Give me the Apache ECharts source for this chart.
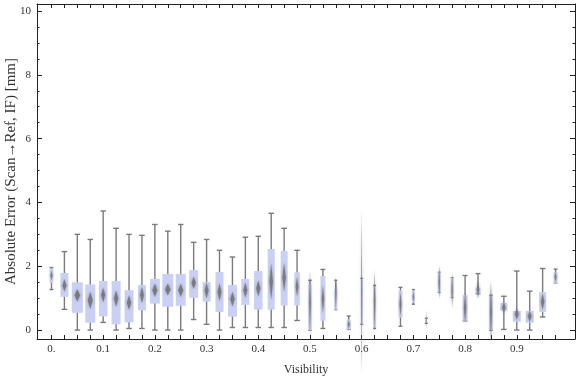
<!DOCTYPE html>
<html>
<head>
<meta charset="utf-8">
<script src="https://cdn.jsdelivr.net/npm/echarts@6/dist/echarts.min.js"></script>
<style>
  html, body { margin: 0; padding: 0; background: #fff; }
  #chart { width: 576px; height: 377px; }
</style>
</head>
<body>
<div id="chart"></div>
<script>
// box positions (visibility bins)
const visibility = [0, 0.025, 0.05, 0.075, 0.1, 0.125, 0.15, 0.175, 0.2, 0.225,
  0.25, 0.275, 0.3, 0.325, 0.35, 0.375, 0.4, 0.425, 0.45, 0.475,
  0.5, 0.525, 0.55, 0.575, 0.6, 0.625, 0.65, 0.675, 0.7, 0.725,
  0.75, 0.775, 0.8, 0.825, 0.85, 0.875, 0.9, 0.925, 0.95, 0.975];

const whiskerLow = [1.27, 0.65, 0, 0, 0.24, 0, 0.05, 0.05, 0, 0,
  0, 0.33, 0.18, 0, 0.08, 0.08, 0.08, 0.08, 0.08, 0.30,
  0, 0.05, 0.64, 0.02, 0.18, 0.05, null, 0.12, 0.81, 0.21,
  1.18, 1.02, 0.29, 1.14, 0, 0.02, 0, 0, 0.41, 1.48];
const q1 = [1.48, 1.04, 0.54, 0.23, 0.43, 0.18, 0.24, 0.62, 0.83, 0.73,
  0.76, 1.01, 0.89, 0.57, 0.42, 0.79, 0.64, 0.64, 0.77, 0.77,
  0, 0.29, 0.64, 0.02, 0.18, 0.08, null, 0.39, 0.86, 0.22,
  1.18, 1.02, 0.29, 1.14, 0, 0.60, 0.26, 0.23, 0.57, 1.48];
const q3 = [1.93, 1.79, 1.50, 1.43, 1.54, 1.54, 1.25, 1.41, 1.60, 1.76,
  1.76, 1.88, 1.50, 1.82, 1.41, 1.60, 1.85, 2.54, 2.48, 1.81,
  1.44, 1.69, 1.27, 0.33, 1.62, 1.38, null, 1.24, 1.24, 0.36,
  1.81, 1.64, 1.10, 1.33, 1.08, 0.86, 0.60, 0.60, 1.19, 1.82];
const whiskerHigh = [1.96, 2.46, 3.00, 2.84, 3.73, 3.19, 3.00, 2.97, 3.31, 3.10,
  3.31, 2.75, 2.84, 2.50, 2.29, 2.91, 2.94, 3.66, 3.19, 2.50,
  1.56, 1.90, 1.56, 0.44, 1.62, 1.40, null, 1.34, 1.27, 0.37,
  1.81, 1.64, 1.71, 1.77, 1.09, 1.06, 1.85, 1.22, 1.93, 1.91];
// mean and half height of its confidence interval (diamond)
const mean = [1.71, 1.40, 1.09, 0.93, 1.10, 0.99, 0.86, 1.10, 1.25, 1.27,
  1.25, 1.48, 1.24, 1.19, 0.97, 1.25, 1.30, 1.52, 1.65, 1.36,
  0.85, 0.97, 1.15, 0.18, 1.18, 0.90, null, 0.81, 1.04, 0.31,
  1.50, 1.25, 0.70, 1.28, 0.56, 0.71, 0.50, 0.43, 0.89, 1.67];
const ciHalf = [0.16, 0.20, 0.20, 0.27, 0.23, 0.26, 0.23, 0.26, 0.21, 0.19,
  0.21, 0.19, 0.25, 0.28, 0.23, 0.24, 0.25, 0.58, 0.45, 0.31,
  1.00, 0.44, 0.52, 0.13, 2.59, 0.97, null, 0.39, 0.16, 0.31,
  0.52, 0.55, 0.49, 0.29, 0.98, 0.18, 0.18, 0.17, 0.26, 0.16];
// relative sample size -> box width
const share = [0.36, 0.73, 1, 0.91, 0.77, 0.82, 0.82, 0.73, 0.91, 1,
  0.91, 0.82, 0.73, 0.73, 0.82, 0.73, 0.77, 0.64, 0.64, 0.5,
  0.32, 0.45, 0.27, 0.36, 0.18, 0.27, null, 0.36, 0.27, 0.09,
  0.27, 0.27, 0.45, 0.45, 0.36, 0.64, 0.73, 0.73, 0.64, 0.36];

const xLabelValues = [0, 0.1, 0.2, 0.3, 0.4, 0.5, 0.6, 0.7, 0.8, 0.9];

const items = [];
visibility.forEach((v, i) => {
    if (share[i] == null) return;
    items.push([v, whiskerLow[i], q1[i], q3[i], whiskerHigh[i], mean[i], ciHalf[i], share[i]]);
});

const frame = { color: '#222', width: 1 };
const labelFont = { fontFamily: 'Liberation Serif', fontSize: 11, color: '#333' };

function renderBox(params, api) {
    const x = api.value(0);
    const pLow = api.coord([x, api.value(1)]);
    const pQ1 = api.coord([x, api.value(2)]);
    const pQ3 = api.coord([x, api.value(3)]);
    const pHigh = api.coord([x, api.value(4)]);
    const m = api.value(5), h = api.value(6);
    const pTop = api.coord([x, m + h]);
    const pMid = api.coord([x, m]);
    const pBot = api.coord([x, m - h]);
    const step = api.size([0.025, 0])[0];
    const bw = step * 0.85 * api.value(7);
    const cx = pLow[0];
    const cap = Math.min(5.5, Math.max(bw, 3)) / 2;
    const dw = bw * 0.5 / 2;
    const wStyle = { stroke: '#7a7a7a', lineWidth: 1.4 };
    return {
        type: 'group',
        children: [
            { type: 'line', shape: { x1: cx, y1: pLow[1], x2: cx, y2: pHigh[1] }, style: wStyle },
            { type: 'line', shape: { x1: cx - cap, y1: pLow[1], x2: cx + cap, y2: pLow[1] }, style: wStyle },
            { type: 'line', shape: { x1: cx - cap, y1: pHigh[1], x2: cx + cap, y2: pHigh[1] }, style: wStyle },
            { type: 'rect', shape: { x: cx - bw / 2, y: pQ3[1], width: bw, height: pQ1[1] - pQ3[1] },
              style: { fill: '#c9d0f4' } },
            { type: 'polygon',
              shape: { points: [[cx, pTop[1]], [cx + dw, pMid[1]], [cx, pBot[1]], [cx - dw, pMid[1]]] },
              style: { fill: 'rgba(115,115,115,0.85)', shadowBlur: 3, shadowColor: 'rgba(110,110,110,0.7)' } }
        ]
    };
}

const chart = echarts.init(document.getElementById('chart'));
const xBase = { type: 'value', min: -0.028, max: 1.0126, splitLine: { show: false } };
// no interval set: nice ticks land on 0, 2, ... 10 and minor ticks every 0.5
const yBase = { type: 'value', min: -0.28, max: 10.22, splitNumber: 5, splitLine: { show: false },
    minorTick: { show: true, splitNumber: 4, length: 2.5, lineStyle: frame } };

chart.setOption({
    backgroundColor: '#fff',
    animation: false,
    grid: { left: 37, right: 1, top: 4, bottom: 38, outerBoundsMode: 'none' },
    xAxis: [
        Object.assign({}, xBase, {
            position: 'bottom',
            name: 'Visibility', nameLocation: 'middle', nameGap: 25,
            nameTextStyle: { fontFamily: 'Liberation Serif', fontSize: 12, color: '#333' },
            axisLine: { onZero: false, lineStyle: frame },
            axisTick: { inside: true, length: 4, customValues: visibility, lineStyle: frame },
            axisLabel: Object.assign({ customValues: xLabelValues, margin: 5,
                formatter: v => v === 0 ? '0.' : String(v) }, labelFont)
        }),
        Object.assign({}, xBase, {
            position: 'top',
            axisLine: { onZero: false, lineStyle: frame },
            axisTick: { inside: true, length: 4, customValues: visibility, lineStyle: frame },
            axisLabel: { show: false }
        })
    ],
    yAxis: [
        Object.assign({}, yBase, {
            position: 'left',
            name: 'Absolute Error (Scan\u2192Ref, IF) [mm]', nameLocation: 'middle', nameGap: 18,
            nameMoveOverlap: false,
            nameTextStyle: { fontFamily: 'Liberation Serif', fontSize: 15, color: '#333' },
            axisLine: { onZero: false, lineStyle: frame },
            axisTick: { inside: true, length: 5, lineStyle: frame },
            axisLabel: Object.assign({ margin: 6, showMinLabel: false, showMaxLabel: false }, labelFont)
        }),
        Object.assign({}, yBase, {
            position: 'right',
            axisLine: { onZero: false, lineStyle: frame },
            axisTick: { inside: true, length: 5, lineStyle: frame },
            axisLabel: { show: false }
        })
    ],
    series: [{
        type: 'custom',
        xAxisIndex: 0,
        yAxisIndex: 0,
        renderItem: renderBox,
        encode: { x: 0, y: [1, 2, 3, 4] },
        data: items
    }]
});
</script>
</body>
</html>
